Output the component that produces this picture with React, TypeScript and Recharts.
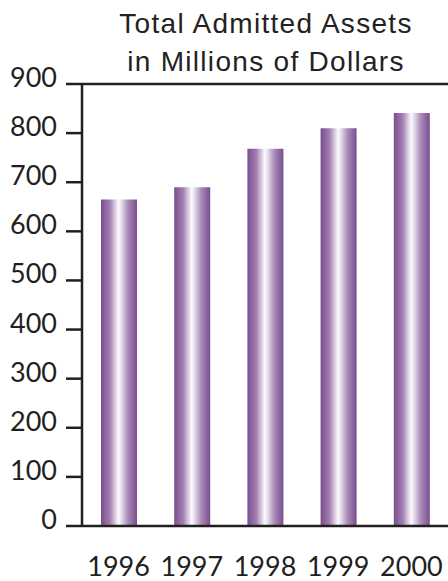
import { Bar, BarChart, ReferenceLine, XAxis, YAxis } from 'recharts';

const years = ['1996', '1997', '1998', '1999', '2000'];
const assets = [665, 690, 768, 810, 841];
const yTicks = [0, 100, 200, 300, 400, 500, 600, 700, 800, 900];

const data = years.map((year, i) => ({ year, assets: assets[i] }));

const INK = '#231f20';
const TICK_FONT = 'Lato, "DejaVu Sans", sans-serif';

function YTick({ x, y, payload }: any) {
  return (
    <text x={x} y={y + 3} textAnchor="end" fontFamily={TICK_FONT} fontSize={27} fill={INK}>
      {payload.value}
    </text>
  );
}

function XTick({ x, y, payload }: any) {
  return (
    <text x={x} y={y + 50} textAnchor="middle" fontFamily={TICK_FONT} fontSize={27} fill={INK}>
      {payload.value}
    </text>
  );
}

export default function App() {
  return (
    <div style={{ position: 'absolute', left: 0, top: 0, width: 448, height: 581, background: '#fff' }}>
      <div
        style={{
          position: 'absolute',
          left: 74,
          width: 384,
          top: 5,
          textAlign: 'center',
          fontFamily: '"Liberation Sans", Arial, sans-serif',
          fontSize: 28,
          letterSpacing: 1.3,
          lineHeight: '38px',
          color: '#222',
          whiteSpace: 'nowrap',
        }}
      >
        Total Admitted Assets
        <br />
        in Millions of Dollars
      </div>
      <BarChart width={448} height={581} data={data} margin={{ top: 84, right: 0, left: 0, bottom: 0 }}>
        <defs>
          <linearGradient id="barFill" x1="0" y1="0" x2="1" y2="0">
            <stop offset="0%" stopColor="#7a4d8e" />
            <stop offset="25%" stopColor="#a280b2" />
            <stop offset="48%" stopColor="#fbf9fc" />
            <stop offset="52%" stopColor="#f4eff6" />
            <stop offset="75%" stopColor="#a98bb8" />
            <stop offset="100%" stopColor="#7a4d8e" />
          </linearGradient>
        </defs>
        <XAxis
          dataKey="year"
          height={55}
          axisLine={{ stroke: INK, strokeWidth: 2.5 }}
          tickLine={false}
          tickSize={0}
          tickMargin={0}
          tick={<XTick />}
          interval={0}
        />
        <YAxis
          width={82}
          domain={[0, 900]}
          ticks={yTicks}
          axisLine={{ stroke: INK, strokeWidth: 2.5 }}
          tickLine={{ stroke: INK, strokeWidth: 2.5 }}
          tickSize={16}
          tickMargin={9}
          tick={<YTick />}
          interval={0}
        />
        <ReferenceLine y={900} stroke={INK} strokeWidth={2.5} />
        <Bar dataKey="assets" fill="url(#barFill)" barSize={36} isAnimationActive={false} />
      </BarChart>
    </div>
  );
}
